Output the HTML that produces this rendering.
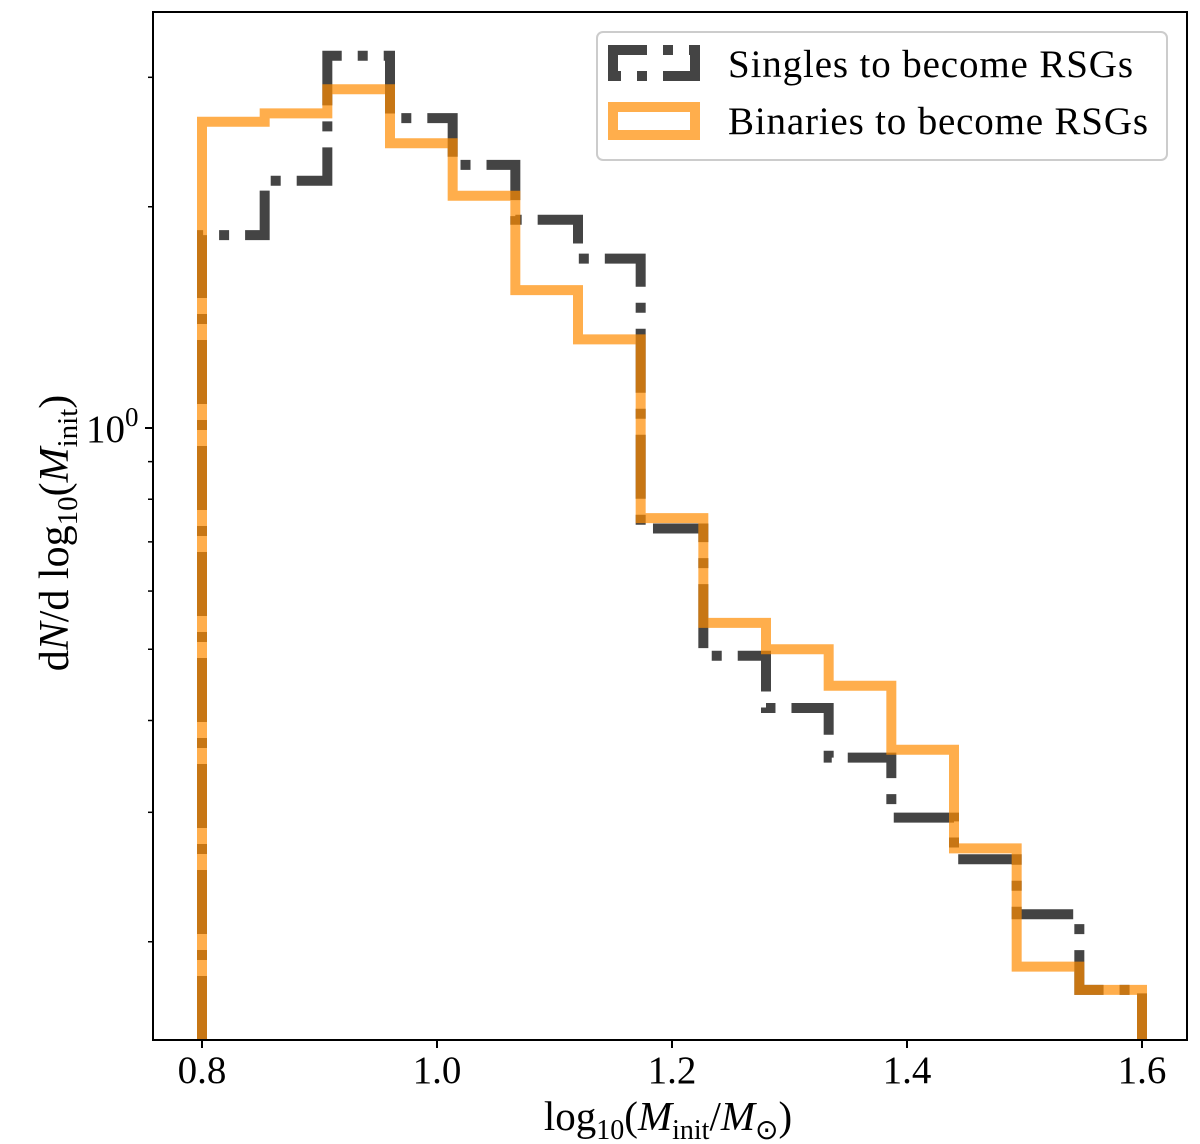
<!DOCTYPE html>
<html><head><meta charset="utf-8"><style>
html,body{margin:0;padding:0;background:#fff;}
svg{display:block;font-family:"Liberation Serif",serif;}
</style></head><body>
<svg id="chart" width="1200" height="1144" viewBox="0 0 1200 1144">
  <g id="marks"></g>
  <rect x="153" y="12" width="1034" height="1028" fill="none" stroke="#000" stroke-width="2"/>
  <g id="axes"></g>
  <text x="668" y="1130" font-size="41" text-anchor="middle">log<tspan font-size="28" dy="9">10</tspan><tspan dy="-9">(</tspan><tspan font-style="italic">M</tspan><tspan font-size="28" dy="9">init</tspan><tspan dy="-9">/</tspan><tspan font-style="italic">M</tspan><tspan font-size="28" dy="9">⊙</tspan><tspan dy="-9">)</tspan></text>
  <text transform="translate(68,533) rotate(-90)" font-size="42" text-anchor="middle">d<tspan font-style="italic">N</tspan>/d log<tspan font-size="29" dy="9">10</tspan><tspan dy="-9">(</tspan><tspan font-style="italic">M</tspan><tspan font-size="29" dy="9">init</tspan><tspan dy="-9">)</tspan></text>
  <g>
    <rect x="597" y="32" width="570" height="128" rx="6" fill="#fff" fill-opacity="0.8" stroke="#ccc" stroke-width="2"/>
    <rect x="613" y="50" width="82" height="26" fill="none" stroke="#444" stroke-width="10" stroke-dasharray="64 16 10 16" stroke-dashoffset="30"/>
    <text x="728" y="77" font-size="39" textLength="405">Singles to become RSGs</text>
    <rect x="613" y="107" width="82" height="28" fill="none" stroke="#ff8c00" stroke-opacity="0.7" stroke-width="10"/>
    <text x="728" y="134" font-size="39" textLength="420">Binaries to become RSGs</text>
  </g>
</svg>
<script>
const binEdgesStart = 0.8;
const binEdgesEnd = 1.6;
const singles = [1.83, 2.17, 3.21, 2.64, 2.28, 1.92, 1.70, 0.73, 0.49, 0.416, 0.356, 0.295, 0.259, 0.218, 0.172];
const binaries = [2.61, 2.68, 2.89, 2.44, 2.07, 1.54, 1.32, 0.754, 0.543, 0.50, 0.446, 0.365, 0.268, 0.185, 0.172];
const xTicks = [0.8, 1.0, 1.2, 1.4, 1.6];
const xTickLabels = ["0.8", "1.0", "1.2", "1.4", "1.6"];
const yMinorTicks = [0.2, 0.3, 0.4, 0.5, 0.6, 0.7, 0.8, 0.9, 2, 3];

const NS = "http://www.w3.org/2000/svg";
const xs = v => 202 + (v - 0.8) * 1175;
const ys = v => 428 - Math.log10(v) * 735;
const bottom = 1040;
const marks = document.getElementById('marks');
const axes = document.getElementById('axes');

function stepPath(vals) {
  const n = vals.length, w = (binEdgesEnd - binEdgesStart) / n;
  let d = `M${xs(binEdgesStart)},${bottom}`;
  vals.forEach((v, i) => {
    d += ` L${xs(binEdgesStart + i * w)},${ys(v)} L${xs(binEdgesStart + (i + 1) * w)},${ys(v)}`;
  });
  d += ` L${xs(binEdgesEnd)},${bottom}`;
  return d;
}
const ps = document.createElementNS(NS, 'path');
ps.setAttribute('d', stepPath(singles));
ps.setAttribute('fill', 'none'); ps.setAttribute('stroke', '#444'); ps.setAttribute('stroke-width', '10');
ps.setAttribute('stroke-dasharray', '64 16 10 16');


marks.appendChild(ps);
const pb = document.createElementNS(NS, 'path');
pb.setAttribute('d', stepPath(binaries));
pb.setAttribute('fill', 'none'); pb.setAttribute('stroke', '#ff8c00'); pb.setAttribute('stroke-opacity', '0.7'); pb.setAttribute('stroke-width', '10');


marks.appendChild(pb);

xTicks.forEach((t, i) => {
  const l = document.createElementNS(NS, 'line');
  l.setAttribute('x1', xs(t)); l.setAttribute('x2', xs(t)); l.setAttribute('y1', bottom); l.setAttribute('y2', bottom + 8);
  l.setAttribute('stroke', '#000'); l.setAttribute('stroke-width', '2');
  
  
  axes.appendChild(l);
  const tx = document.createElementNS(NS, 'text');
  tx.setAttribute('x', xs(t)); tx.setAttribute('y', 1083); tx.setAttribute('font-size', '39'); tx.setAttribute('text-anchor', 'middle');
  tx.textContent = xTickLabels[i];
  
  
  axes.appendChild(tx);
});
yMinorTicks.forEach(t => {
  const l = document.createElementNS(NS, 'line');
  l.setAttribute('x1', 148); l.setAttribute('x2', 153); l.setAttribute('y1', ys(t)); l.setAttribute('y2', ys(t));
  l.setAttribute('stroke', '#000'); l.setAttribute('stroke-width', '1.5');
  
  
  axes.appendChild(l);
});
const mj = document.createElementNS(NS, 'line');
mj.setAttribute('x1', 145); mj.setAttribute('x2', 153); mj.setAttribute('y1', ys(1)); mj.setAttribute('y2', ys(1));
mj.setAttribute('stroke', '#000'); mj.setAttribute('stroke-width', '2');


axes.appendChild(mj);
const ml = document.createElementNS(NS, 'text');
ml.setAttribute('x', 86); ml.setAttribute('y', ys(1) + 14); ml.setAttribute('font-size', '39');
ml.innerHTML = '10<tspan font-size="27" dy="-16">0</tspan>';


axes.appendChild(ml);
</script>
</body></html>
